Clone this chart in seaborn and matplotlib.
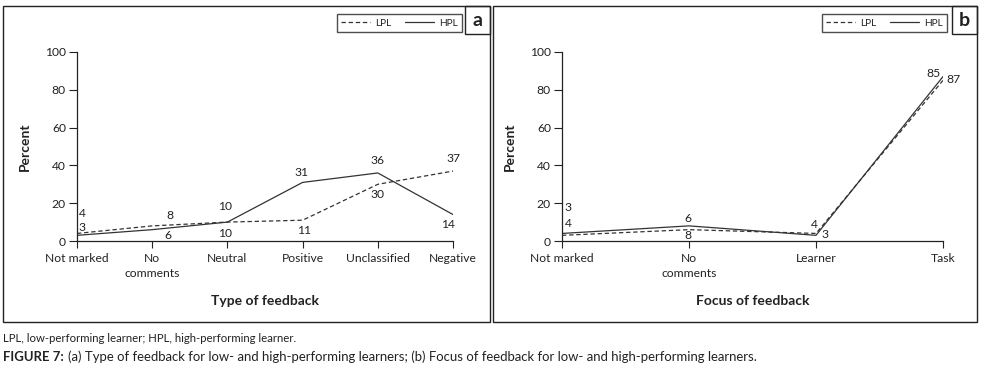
import numpy as np
import pandas as pd
import matplotlib
matplotlib.use("Agg")
import matplotlib.pyplot as plt
from matplotlib.patches import Rectangle
from matplotlib.lines import Line2D
import seaborn as sns

# ---------------------------
# Data
# ---------------------------
type_cats = ["Not marked", "No\ncomments", "Neutral", "Positive", "Unclassified", "Negative"]
type_lpl = [4, 8, 10, 11, 30, 37]
type_hpl = [3, 6, 10, 31, 36, 14]

focus_cats = ["Not marked", "No\ncomments", "Learner", "Task"]
focus_lpl = [3, 6, 4, 85]
focus_hpl = [4, 8, 3, 87]

# label offsets (pixels) for the value annotations
type_lpl_off = [(5, 20), (18, 10), (-2, -11), (1, -10), (0, -10), (0, 13)]
type_hpl_off = [(5, 8), (16, -6), (-2, 16), (-1, 10), (0, 12), (-5, -10)]
focus_lpl_off = [(6, 28), (-1, 11), (-2, 9), (-10, 7)]
focus_hpl_off = [(6, 10), (-1, -10), (9, 1), (10, -3)]

sns.set_style("ticks")
plt.rcParams["font.family"] = ["Lato", "DejaVu Sans"]

W, H = 987, 371
fig = plt.figure(figsize=(W / 100, H / 100), dpi=100)
ink = "#222222"
line_col = "#333333"
dash = (0, (3.5, 2.2))


def fx(x):
    return x / W


def fy(y):
    return 1 - y / H


def panel(cats, lpl, hpl, lpl_off, hpl_off, left, right, xlabel, letter, box_left, box_right, leg_left):
    ax = fig.add_axes([fx(left), fy(241), fx(right - left), (241 - 52) / H])
    df = pd.DataFrame({"cat": cats, "LPL": lpl, "HPL": hpl})
    sns.lineplot(data=df, x="cat", y="LPL", ax=ax, color=line_col, lw=0.9,
                 linestyle=dash, sort=False)
    sns.lineplot(data=df, x="cat", y="HPL", ax=ax, color=line_col, lw=0.9, sort=False)
    for i in range(len(cats)):
        for vals, off in ((lpl, lpl_off), (hpl, hpl_off)):
            ax.annotate(str(vals[i]), (i, vals[i]), xytext=off[i], textcoords="offset pixels",
                        ha="center", va="center", fontsize=8.7, color=ink)
    ax.set_xlim(0, len(cats) - 1)
    ax.set_ylim(0, 100)
    ax.set_yticks(range(0, 101, 20))
    ax.set_xticks(range(len(cats)))
    ax.set_xticklabels(cats, fontsize=8.7, color=ink, linespacing=1.4)
    ax.tick_params(axis="y", labelsize=8.7, labelcolor=ink, length=6, width=0.8, color=ink, pad=2)
    ax.tick_params(axis="x", length=5, width=0.8, color=ink, pad=4)
    sns.despine(ax=ax)
    for s in ("left", "bottom"):
        ax.spines[s].set_color(ink)
        ax.spines[s].set_linewidth(0.9)
    ax.set_xlabel(xlabel, fontsize=10, fontweight="bold", color=ink)
    ax.set_ylabel("Percent", fontsize=10, fontweight="bold", color=ink)
    ax.xaxis.set_label_coords(0.5, (241 - 295) / 189)
    ax.yaxis.set_label_coords((31 - 77) / (right - left), 0.5)

    # panel frame + letter box
    fig.add_artist(Rectangle((fx(box_left), fy(322)), fx(box_right - box_left), (322 - 6) / H,
                             transform=fig.transFigure, fill=False, ec=ink, lw=1))
    fig.add_artist(Rectangle((fx(box_right - 25), fy(34)), fx(25), 28 / H,
                             transform=fig.transFigure, fill=False, ec=ink, lw=1))
    fig.text(fx(box_right - 12.5), fy(20), letter, ha="center", va="center",
             fontsize=14, fontweight="bold", color=ink)

    handles = [Line2D([], [], color=line_col, lw=0.9, linestyle=dash),
               Line2D([], [], color=line_col, lw=0.9)]
    leg = ax.legend(handles, ["LPL", "HPL"], loc="center",
                    bbox_to_anchor=(fx(leg_left + 60.5), fy(23)), bbox_transform=fig.transFigure,
                    ncol=2, frameon=True, fancybox=False, edgecolor=ink, fontsize=7.3,
                    handlelength=2.9, columnspacing=1.3, handletextpad=0.5,
                    borderpad=0.4, borderaxespad=0)
    leg.get_frame().set_linewidth(1)
    for t in leg.get_texts():
        t.set_color(ink)
    return ax


panel(type_cats, type_lpl, type_hpl, type_lpl_off, type_hpl_off, 77, 453,
      "Type of feedback", "a", 3, 490, 339)
panel(focus_cats, focus_lpl, focus_hpl, focus_lpl_off, focus_hpl_off, 562, 943,
      "Focus of feedback", "b", 493, 977, 824)

# captions below the panels, sized to the reference widths
cap1 = fig.text(fx(3), fy(338), "LPL, low-performing learner; HPL, high-performing learner.",
                ha="left", va="center", fontsize=7.5, color=ink)
t1 = fig.text(fx(3), fy(357), "FIGURE 7:", ha="left", va="center", fontsize=9.5,
              fontweight="bold", color=ink)
t2 = fig.text(fx(60), fy(357),
              "(a) Type of feedback for low- and high-performing learners; "
              "(b) Focus of feedback for low- and high-performing learners.",
              ha="left", va="center", fontsize=9.5, color=ink)
fig.canvas.draw()
r = fig.canvas.get_renderer()
w1 = cap1.get_window_extent(r).width
cap1.set_fontsize(7.5 * 295 / w1)
fig.canvas.draw()
tot = t1.get_window_extent(r).width + 4 + t2.get_window_extent(r).width
s = 9.5 * 759 / tot
t1.set_fontsize(s)
t2.set_fontsize(s)
fig.canvas.draw()
t2.set_x(t1.get_window_extent(r).x1 / W + fx(4))

fig.savefig("out.png", dpi=100, facecolor="white")
